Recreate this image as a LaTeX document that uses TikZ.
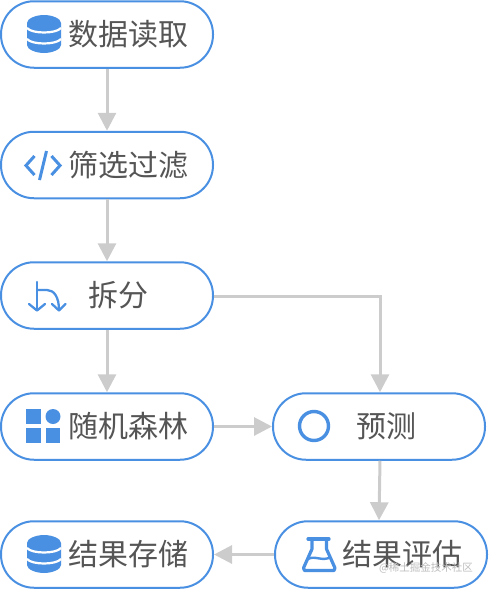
\documentclass[tikz,border=0pt]{standalone}
\usepackage{fontspec}
\newfontfamily\cjk{Noto Sans CJK SC}
\usetikzlibrary{arrows.meta}
\definecolor{nodeblue}{HTML}{4A90E2}
\definecolor{edgegray}{HTML}{CCCCCC}
\definecolor{labelgray}{HTML}{555555}
\definecolor{markgray}{HTML}{BDBDBD}
\tikzset{
  x=1pt,y=-1pt,
  pill/.style={draw=nodeblue,line width=2pt,fill=white,rounded corners=33pt,minimum width=212pt,minimum height=66.5pt,inner sep=0pt},
  lab/.style={font=\cjk\fontsize{30}{32}\selectfont,text=labelgray,inner sep=0pt},
  flow/.style={draw=edgegray,line width=3pt,-{Triangle[length=18pt,width=18pt,color=edgegray]}},
  iconline/.style={draw=nodeblue,line width=3pt,fill=none},
  thinicon/.style={draw=nodeblue,line width=2.3pt,fill=none,line cap=round,line join=round},
  dbgap/.style={draw=white,line width=2.2pt,fill=none}
}
\newcommand{\dbicon}[2]{%
  \begin{scope}[shift={(#1,#2)}]
    \fill[nodeblue] (-17,-11) -- (-17,11) .. controls (-17,15.5) and (-8,19) .. (0,19) .. controls (8,19) and (17,15.5) .. (17,11) -- (17,-11) .. controls (17,-15.5) and (8,-19) .. (0,-19) .. controls (-8,-19) and (-17,-15.5) .. (-17,-11) -- cycle;
    \draw[dbgap] (-17,-6) .. controls (-12,0) and (12,0) .. (17,-6);
    \draw[dbgap] (-17,5) .. controls (-12,11) and (12,11) .. (17,5);
  \end{scope}}
\begin{document}
\begin{tikzpicture}
\useasboundingbox (0,0) rectangle (488,589);
\node[pill] (read) at (107,34.5) {};
\node[pill] (filter) at (107,165) {};
\node[pill] (split) at (107,295.5) {};
\node[pill] (forest) at (107,426.5) {};
\node[pill] (store) at (107,554.5) {};
\node[pill] (predict) at (379,426.5) {};
\node[pill] (evaluate) at (381,554.5) {};

\node[lab] (t1) at (128,34) {数据读取};
\node[lab] (t2) at (128,165) {筛选过滤};
\node[lab] (t3) at (118,295) {拆分};
\node[lab] (t4) at (128,426) {随机森林};
\node[lab] (t5) at (128,554) {结果存储};
\node[lab] (t6) at (386,426) {预测};
\node[lab] (t7) at (402,554) {结果评估};

\draw[flow] (read.south) -- (filter.north);
\draw[flow] (filter.south) -- (split.north);
\draw[flow] (split.south) -- (forest.north);
\draw[flow] ([yshift=-1pt]split.east) -| ([xshift=1pt]predict.north);
\draw[flow] (forest.east) -- (predict.west);
\draw[flow] ([xshift=1pt]predict.south) -- ([xshift=-2pt]evaluate.north);
\draw[flow] (evaluate.west) -- (store.east);

\dbicon{44}{34}
\dbicon{44}{554}

% code icon
\draw[iconline] (34.5,156) -- (26,165.5) -- (34.5,175);
\draw[iconline] (51.5,156) -- (60,165.5) -- (51.5,175);
\draw[iconline] (46.5,151) -- (39.5,180);

% split icon
\draw[thinicon] (37,282) -- (37,310);
\draw[thinicon] (29,304) -- (37,310.5) -- (45,304);
\draw[thinicon] (37,290) -- (47,290) .. controls (54,290) and (59,297) .. (59,310);
\draw[thinicon] (52,304) -- (59,310.5) -- (65.5,304);

% grid icon
\fill[nodeblue] (26,409) rectangle (41,424);
\fill[nodeblue] (53,416.5) circle (7.5);
\fill[nodeblue] (26,428) rectangle (41,443);
\fill[nodeblue] (45.5,428) rectangle (60,443);

% circle icon
\draw[draw=nodeblue,line width=3.4pt] (314,426) circle (14.5);

% flask icon
\draw[draw=nodeblue,line width=3.2pt,line join=round,line cap=round] (308,539) -- (329,539);
\draw[draw=nodeblue,line width=3.2pt,line join=round,line cap=round] (312,539) -- (312,549) -- (303.5,568) -- (304.5,570.5) -- (334,570.5) -- (335,568) -- (326.5,549) -- (326.5,539);
\draw[draw=nodeblue,line width=2.4pt] (308,559) .. controls (315,555) and (322,562) .. (331,557);

\node[font=\cjk\fontsize{10.5}{12}\selectfont,text=markgray,inner sep=0pt,fill=none] (mark) at (426,567.5) {@稀土掘金技术社区};
\end{tikzpicture}
\end{document}
